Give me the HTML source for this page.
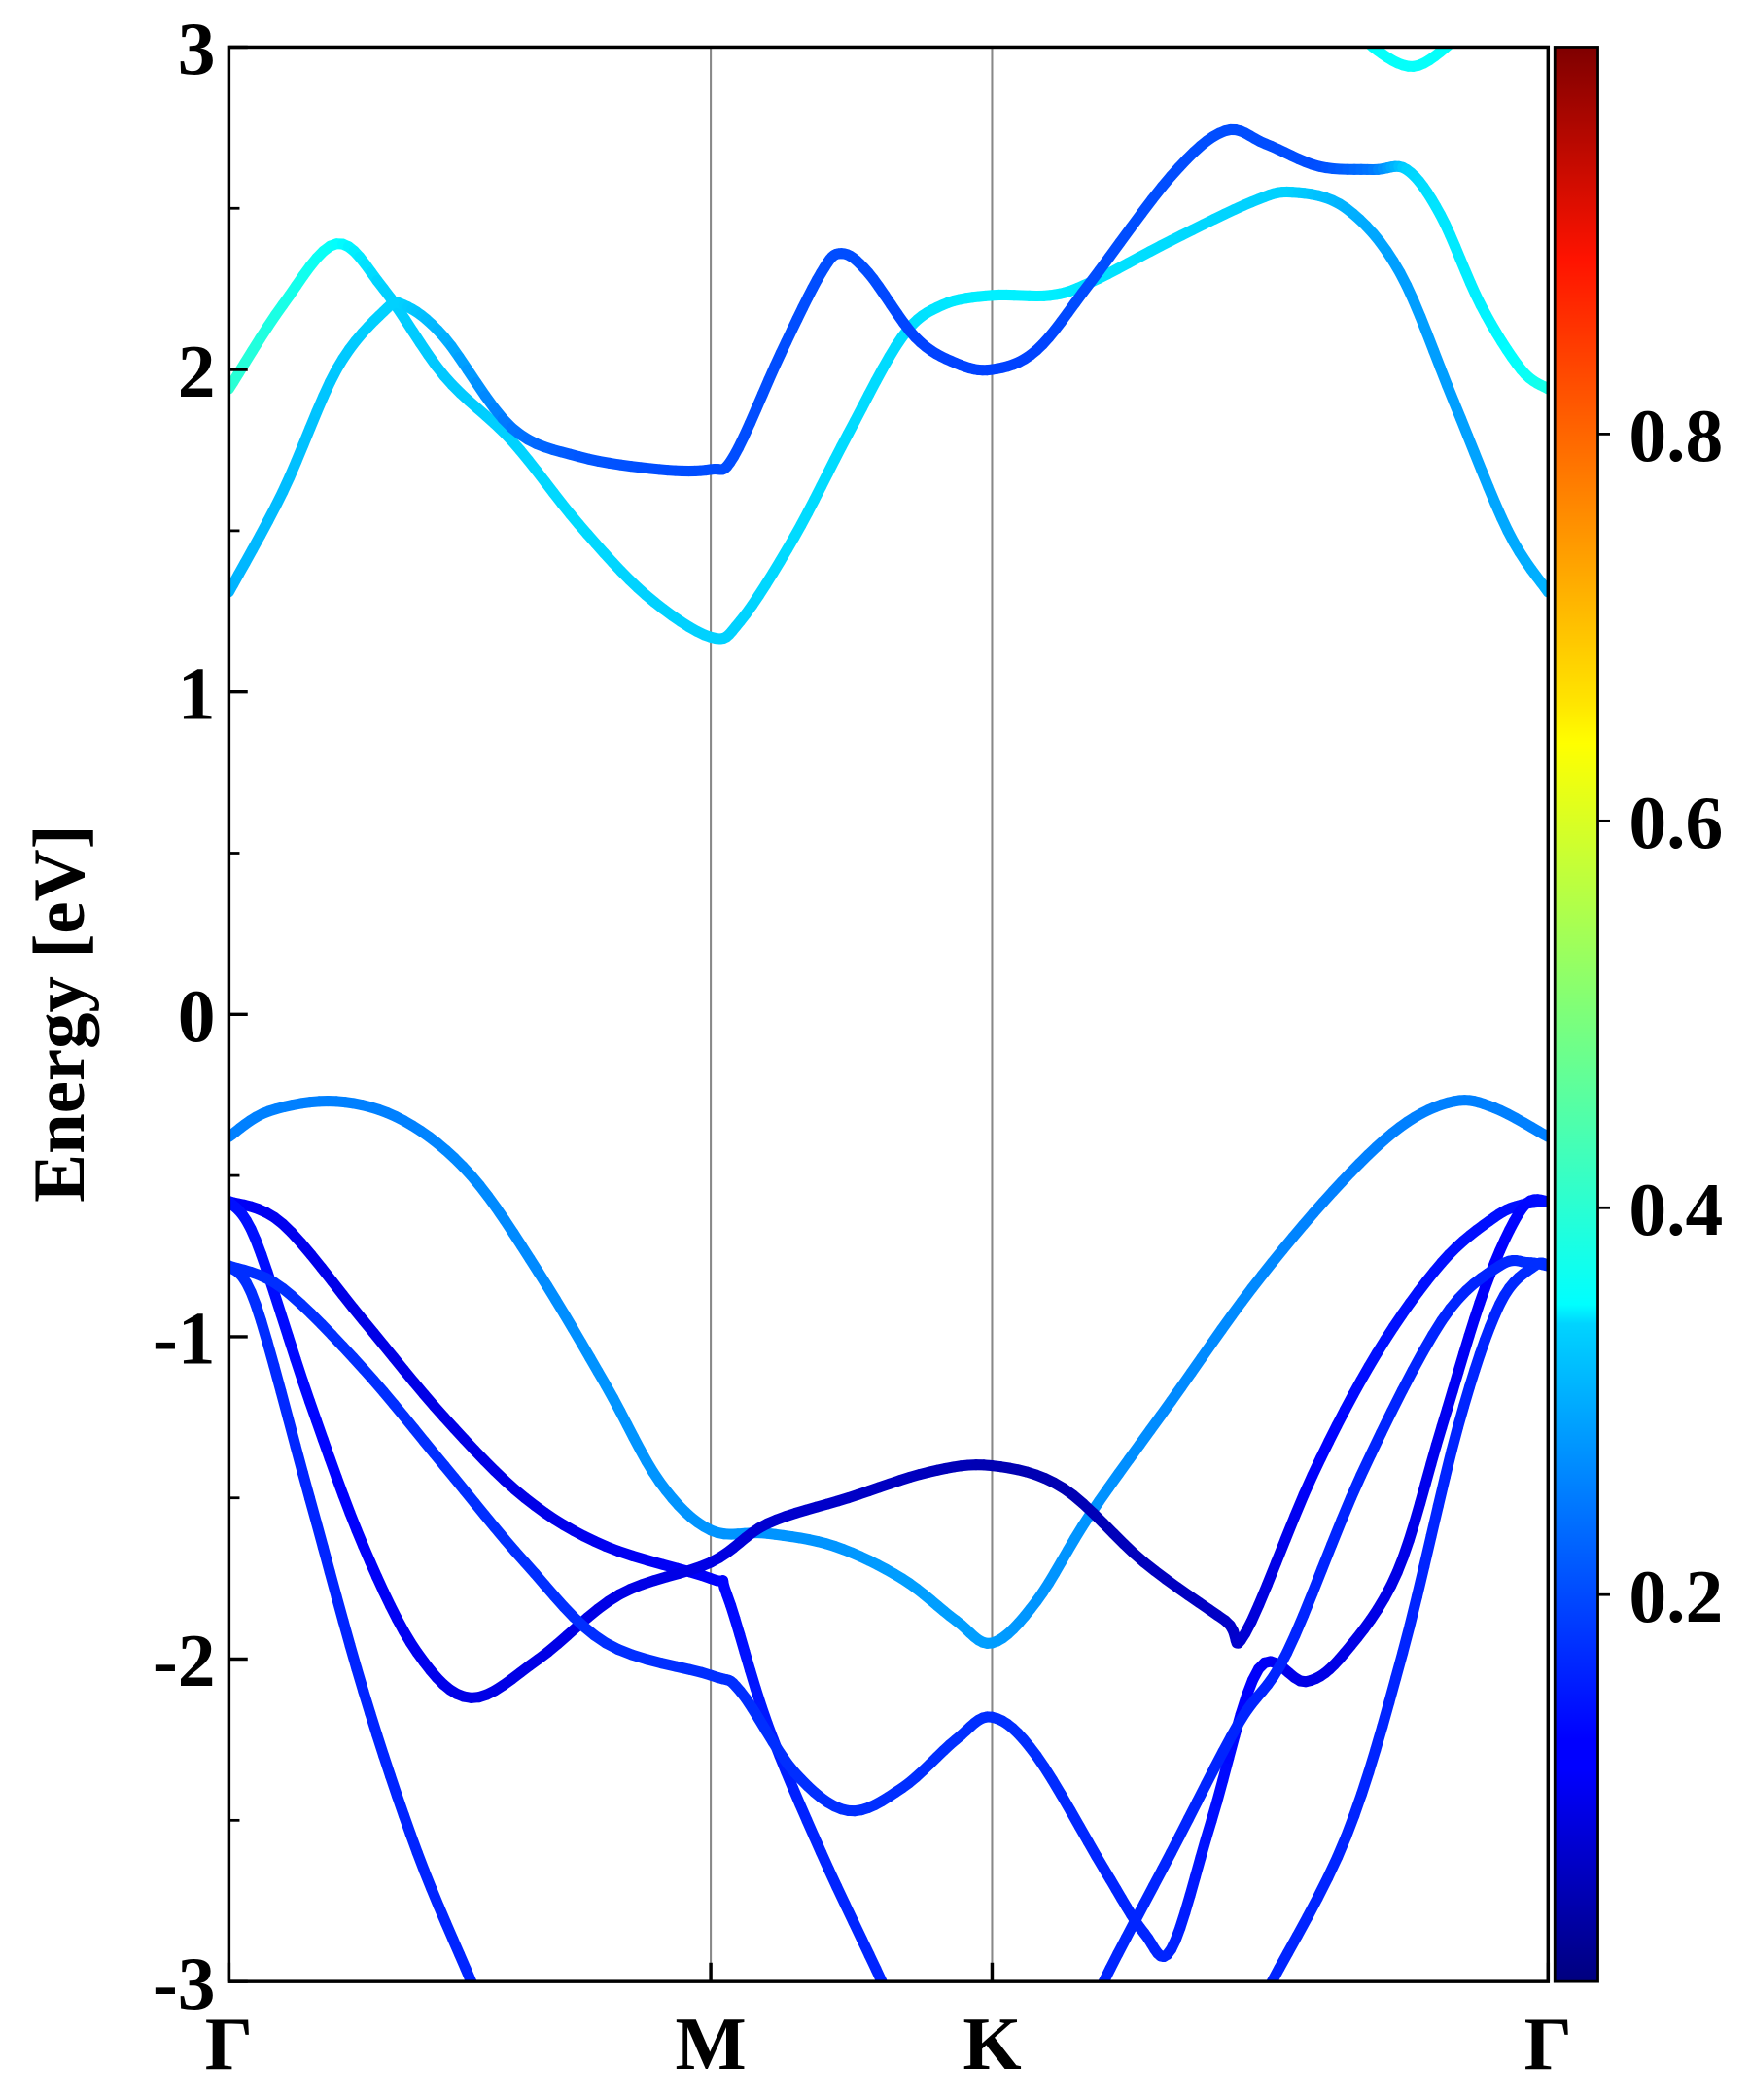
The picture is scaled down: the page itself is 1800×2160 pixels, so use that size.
<!DOCTYPE html>
<html><head><meta charset="utf-8"><style>
html,body{margin:0;padding:0;background:#fff}
svg{display:block}
text{font-family:"Liberation Serif",serif;font-weight:bold;fill:#000}
</style></head><body>
<svg id="chart" width="1800" height="2160" viewBox="0 0 1300 1560" xmlns="http://www.w3.org/2000/svg">
<defs>
<clipPath id="plotclip"><rect x="170" y="35" width="980" height="1437"/></clipPath>
<linearGradient id="jet" x1="0" y1="1" x2="0" y2="0">
<stop offset="0" stop-color="#00007f"/><stop offset="0.11" stop-color="#0000ff"/>
<stop offset="0.125" stop-color="#0000ff"/><stop offset="0.34" stop-color="#00d4ff"/>
<stop offset="0.35" stop-color="#0ff"/><stop offset="0.5" stop-color="#7dff7a"/>
<stop offset="0.64" stop-color="#ff0"/><stop offset="0.66" stop-color="#ffe600"/>
<stop offset="0.89" stop-color="#ff1300"/><stop offset="1" stop-color="#7f0000"/>
</linearGradient>
</defs>
<g id="gridlines"></g>
<g id="bands" clip-path="url(#plotclip)"></g>
<rect x="170" y="35" width="980" height="1437" fill="none" stroke="#000" stroke-width="2.5"/>
<g id="axes"></g>
<rect x="1155" y="35" width="32" height="1437" fill="url(#jet)" stroke="#000" stroke-width="2"/>
<text transform="translate(62,753) rotate(-90)" text-anchor="middle" font-size="54">Energy [eV]</text>
</svg>
<script>
const kTicks=[0,358,567,980];
const kLabels=["Γ","M","K","Γ"];
const yTicks=[-3,-2,-1,0,1,2,3];
const cbTicks=[0.2,0.4,0.6,0.8];
const bandA_k=[0,40,80,115,160,210,260,310,358,380,420,460,500,530,567,610,640,700,760,790,830,870,910,950,980];
const bandA_E=[1.94,2.2,2.39,2.25,1.98,1.78,1.52,1.3,1.17,1.22,1.48,1.8,2.1,2.2,2.23,2.23,2.27,2.4,2.52,2.55,2.5,2.3,1.9,1.5,1.31];
const bandA_w=[0.42,0.4,0.38,0.33,0.32,0.33,0.34,0.33,0.33,0.33,0.34,0.34,0.34,0.35,0.36,0.36,0.35,0.34,0.33,0.33,0.3,0.28,0.28,0.29,0.3];
const bandB_k=[0,40,80,115,130,160,210,260,320,358,375,410,440,455,475,510,540,567,600,640,700,740,770,810,850,875,900,930,960,980];
const bandB_E=[1.31,1.62,2.0,2.18,2.2,2.1,1.82,1.73,1.69,1.69,1.73,2.05,2.3,2.36,2.3,2.1,2.02,2.0,2.06,2.27,2.6,2.74,2.7,2.63,2.62,2.62,2.48,2.2,2.0,1.94];
const bandB_w=[0.3,0.31,0.32,0.33,0.33,0.3,0.24,0.21,0.2,0.2,0.2,0.2,0.2,0.2,0.2,0.19,0.19,0.19,0.19,0.2,0.2,0.2,0.2,0.2,0.24,0.33,0.35,0.36,0.38,0.4];
const bandC_k=[830,850,880,910,930];
const bandC_E=[3.1,3.0,2.94,3.02,3.1];
const bandC_w=[0.38,0.38,0.38,0.38,0.38];
const v1_k=[0,30,80,130,180,230,280,320,358,400,450,500,540,567,600,640,700,760,820,870,910,940,980];
const v1_E=[-0.38,-0.3,-0.27,-0.33,-0.5,-0.8,-1.15,-1.45,-1.6,-1.61,-1.65,-1.75,-1.88,-1.95,-1.82,-1.55,-1.2,-0.85,-0.55,-0.35,-0.27,-0.29,-0.38];
const v1_w=[0.25,0.25,0.25,0.25,0.26,0.26,0.27,0.27,0.27,0.27,0.27,0.28,0.28,0.28,0.27,0.27,0.26,0.26,0.25,0.25,0.25,0.25,0.25];
const v2_k=[0,40,100,160,220,280,358,370,400,440,485,500];
const v2_E=[-0.58,-0.65,-0.95,-1.25,-1.5,-1.65,-1.75,-1.8,-2.2,-2.6,-3.0,-3.15];
const v2_w=[0.12,0.11,0.1,0.1,0.1,0.11,0.12,0.13,0.15,0.16,0.16,0.16];
const v3_k=[0,20,60,100,140,180,230,290,358,400,460,520,567,620,680,740,755,805,853,901,940,961,980];
const v3_E=[-0.58,-0.7,-1.2,-1.65,-1.98,-2.12,-2.0,-1.8,-1.7,-1.58,-1.5,-1.42,-1.4,-1.47,-1.7,-1.88,-1.92,-1.43,-1.05,-0.77,-0.63,-0.59,-0.58];
const v3_w=[0.14,0.14,0.13,0.12,0.11,0.1,0.1,0.1,0.1,0.08,0.07,0.06,0.05,0.05,0.06,0.07,0.08,0.12,0.14,0.14,0.14,0.14,0.14];
const v4_k=[0,40,100,160,220,280,358,380,420,460,500,540,567,600,650,680,700,730,765,800,829,868,901,933,961,980];
const v4_E=[-0.78,-0.85,-1.1,-1.4,-1.7,-1.95,-2.05,-2.1,-2.35,-2.47,-2.4,-2.25,-2.18,-2.3,-2.65,-2.85,-2.9,-2.5,-2.03,-2.07,-1.98,-1.73,-1.28,-0.85,-0.6,-0.58];
const v4_w=[0.17,0.17,0.17,0.17,0.17,0.17,0.17,0.17,0.17,0.17,0.17,0.17,0.17,0.17,0.16,0.16,0.16,0.14,0.12,0.1,0.1,0.1,0.11,0.12,0.13,0.14];
const v5_k=[0,20,60,100,140,180,200];
const v5_E=[-0.78,-0.9,-1.5,-2.1,-2.6,-3.0,-3.2];
const v5_w=[0.17,0.17,0.16,0.16,0.16,0.16,0.16];
const v6_k=[630,650,700,750,786,841,901,944,965,980];
const v6_E=[-3.2,-3.0,-2.6,-2.2,-1.98,-1.43,-0.95,-0.78,-0.77,-0.78];
const v6_w=[0.16,0.16,0.16,0.16,0.16,0.16,0.16,0.16,0.17,0.17];
const v7_k=[755,775,830,872,913,944,970,980];
const v7_E=[-3.15,-3.0,-2.55,-1.98,-1.28,-0.9,-0.78,-0.78];
const v7_w=[0.16,0.16,0.16,0.16,0.16,0.16,0.17,0.17];

const X0=170,X1=1150,Y0=35,Y1=1472,KMAX=980,EMIN=-3,EMAX=3;
function xs(k){return X0+(k/KMAX)*(X1-X0);}
function ys(e){return Y1-(e-EMIN)/(EMAX-EMIN)*(Y1-Y0);}
function cby(v){return 1472-(v/1.0)*(1472-35);}
function jet(v){
  function c(x){return Math.max(0,Math.min(1,x));}
  const r=c(1.5-Math.abs(4*v-3)),g=c(1.5-Math.abs(4*v-2)),b=c(1.5-Math.abs(4*v-1));
  return `rgb(${Math.round(r*255)},${Math.round(g*255)},${Math.round(b*255)})`;
}
const NS="http://www.w3.org/2000/svg";
const gBands=document.getElementById('bands');
const gAxes=document.getElementById('axes');
const gGrid=document.getElementById('gridlines');
function mk(tag,attrs,parent){const e=document.createElementNS(NS,tag);for(const a in attrs)e.setAttribute(a,attrs[a]);parent.appendChild(e);return e;}

[1,2].forEach(i=>{
  const l=mk('line',{x1:xs(kTicks[i]),x2:xs(kTicks[i]),y1:Y0,y2:Y1,stroke:'#888','stroke-width':1.5},gGrid);
  
  
});

function catmull(pts,i,t){
  const p0=pts[Math.max(0,i-1)],p1=pts[i],p2=pts[i+1],p3=pts[Math.min(pts.length-1,i+2)];
  const t2=t*t,t3=t2*t;
  const f=(a,b,c,d)=>0.5*((2*b)+(-a+c)*t+(2*a-5*b+4*c-d)*t2+(-a+3*b-3*c+d)*t3);
  return [f(p0[0],p1[0],p2[0],p3[0]),f(p0[1],p1[1],p2[1],p3[1])];
}
function drawBand(name,K,E,W){
  const g=mk('g',{},gBands);
  
  
  const pts=K.map((k,i)=>[xs(k),ys(E[i])]);
  const N=8;
  for(let i=0;i<pts.length-1;i++){
    for(let s=0;s<N;s++){
      const a=catmull(pts,i,s/N),b=catmull(pts,i,(s+1)/N);
      const w=W[i]+(W[i+1]-W[i])*((s+0.5)/N);
      mk('line',{x1:a[0],y1:a[1],x2:b[0],y2:b[1],stroke:jet(w),'stroke-width':8,'stroke-linecap':'round'},g);
    }
  }
}
drawBand('conduction-band-a',bandA_k,bandA_E,bandA_w);
drawBand('conduction-band-b',bandB_k,bandB_E,bandB_w);
drawBand('conduction-band-c',bandC_k,bandC_E,bandC_w);
drawBand('valence-band-1',v1_k,v1_E,v1_w);
drawBand('valence-band-2',v2_k,v2_E,v2_w);
drawBand('valence-band-3',v3_k,v3_E,v3_w);
drawBand('valence-band-4',v4_k,v4_E,v4_w);
drawBand('valence-band-5',v5_k,v5_E,v5_w);
drawBand('valence-band-6',v6_k,v6_E,v6_w);
drawBand('valence-band-7',v7_k,v7_E,v7_w);

yTicks.forEach(v=>{
  const y=ys(v);
  mk('line',{x1:X0,x2:X0+14,y1:y,y2:y,stroke:'#000','stroke-width':2.5},gAxes);
  const t=mk('text',{x:X0-10,y:y+20,'text-anchor':'end','font-size':56},gAxes);
  t.textContent=String(v);
  
  
});
for(let v=-2.5;v<3;v+=1){
  const y=ys(v);
  mk('line',{x1:X0,x2:X0+8,y1:y,y2:y,stroke:'#000','stroke-width':2},gAxes);
}
kTicks.forEach((k,i)=>{
  const x=xs(k);
  mk('line',{x1:x,x2:x,y1:Y1,y2:Y1-14,stroke:'#000','stroke-width':2.5},gAxes);
  const t=mk('text',{x:x,y:1537,'text-anchor':'middle','font-size':56},gAxes);
  t.textContent=kLabels[i];
  
  
});
cbTicks.forEach(v=>{
  const y=cby(v);
  mk('line',{x1:1187,x2:1196,y1:y,y2:y,stroke:'#000','stroke-width':2},gAxes);
  const t=mk('text',{x:1210,y:y+20,'font-size':56},gAxes);
  t.textContent=v.toFixed(1);
  
  
});
</script>
</body></html>
